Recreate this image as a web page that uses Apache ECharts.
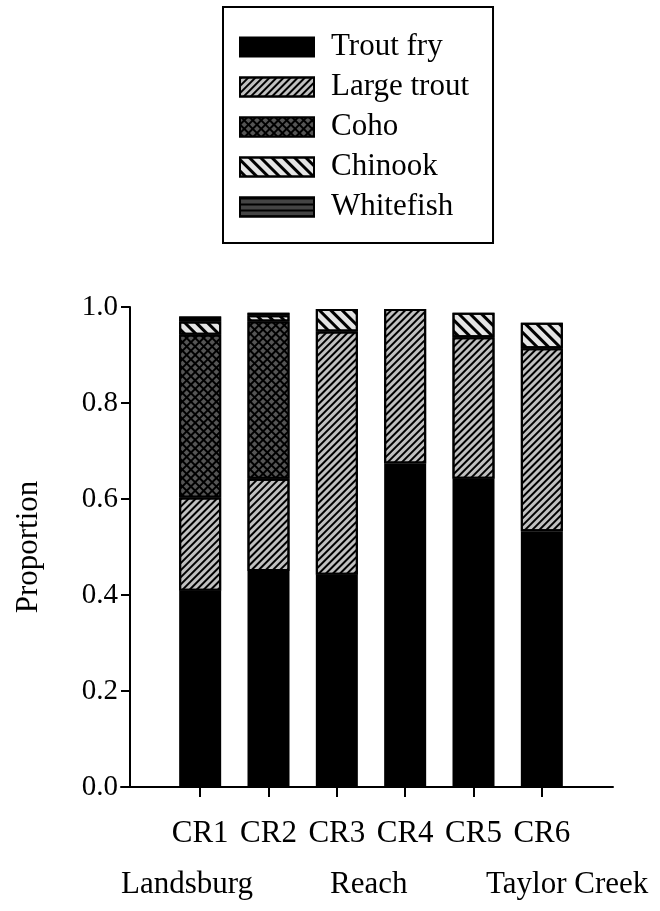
<!DOCTYPE html>
<html>
<head>
<meta charset="utf-8">
<script src="https://cdn.jsdelivr.net/npm/echarts@6/dist/echarts.min.js"></script>
<style>
html,body{margin:0;padding:0;background:#fff;}
#chart{width:660px;height:911px;}
</style>
</head>
<body>
<div id="chart"></div>
<script>
// ---- data ----
const categories = ['CR1', 'CR2', 'CR3', 'CR4', 'CR5', 'CR6'];
const troutFry   = [0.409, 0.450, 0.442, 0.674, 0.642, 0.533];
const largeTrout = [0.194, 0.192, 0.507, 0.322, 0.295, 0.381];
const coho       = [0.339, 0.328, 0, 0, 0, 0];
const chinook    = [0.028, 0.013, 0.047, 0, 0.051, 0.053];
const whitefish  = [0.010, 0.005, 0, 0, 0, 0];
const yTicks = ['0.0', '0.2', '0.4', '0.6', '0.8', '1.0'];
const reachLabels = ['Landsburg', 'Reach', 'Taylor Creek'];

const FONT = "'Liberation Serif', 'Times New Roman', serif";
const chart = echarts.init(document.getElementById('chart'), null, {renderer: 'canvas'});

function clean(arr) { return arr.map(v => (v === 0 ? null : v)); }

const barCommon = {
  type: 'bar', stack: 'total', barWidth: 42, xAxisIndex: 0, yAxisIndex: 0
};
const border = {borderColor: '#000', borderWidth: 2};

const option = {
  backgroundColor: '#fff',
  animation: false,
  legend: {
    orient: 'vertical',
    left: 223, top: 7,
    padding: [24, 24, 20, 16],
    borderColor: '#000', borderWidth: 2,
    itemWidth: 74, itemHeight: 19, itemGap: 8,
    icon: 'rect',
    textStyle: {fontFamily: FONT, fontSize: 31, color: '#000', lineHeight: 32, padding: [0, 0, 0, 12]},
    data: ['Trout fry', 'Large trout', 'Coho', 'Chinook', 'Whitefish']
  },
  grid: [
    {left: 166, right: 84, top: 307, bottom: 124},
    {left: 121, right: 47, top: 307, bottom: 124}
  ],
  xAxis: [
    {
      type: 'category', gridIndex: 0, data: categories,
      axisLine: {show: false},
      axisTick: {show: true, interval: 0, alignWithLabel: true, length: 10, lineStyle: {color: '#000', width: 2}},
      axisLabel: {interval: 0, hideOverlap: false, fontFamily: FONT, fontSize: 31, color: '#000', margin: 31}
    },
    {
      type: 'value', gridIndex: 1, min: 0, max: 1,
      axisLine: {show: true, onZero: false, lineStyle: {color: '#000', width: 2}},
      axisTick: {show: false}, axisLabel: {show: false}, splitLine: {show: false}
    }
  ],
  yAxis: [
    {
      type: 'value', gridIndex: 0, min: 0, max: 1, interval: 0.2, offset: 36,
      name: 'Proportion', nameLocation: 'middle', nameGap: 86,
      nameTextStyle: {fontFamily: FONT, fontSize: 31, color: '#000'},
      axisLine: {show: true, lineStyle: {color: '#000', width: 2}},
      axisTick: {show: true, length: 9, lineStyle: {color: '#000', width: 2}},
      axisLabel: {fontFamily: FONT, fontSize: 29, color: '#000', margin: 12,
        formatter: v => yTicks[Math.round(v / 0.2)]},
      splitLine: {show: false}
    },
    {type: 'value', gridIndex: 1, min: 0, max: 1, show: false}
  ],
  series: [
    Object.assign({}, barCommon, {
      name: 'Trout fry', data: clean(troutFry),
      itemStyle: Object.assign({color: '#000'}, border)
    }),
    Object.assign({}, barCommon, {
      name: 'Large trout', data: clean(largeTrout),
      itemStyle: Object.assign({color: '#c0c0c0',
        decal: {symbol: 'rect', symbolSize: 1, color: '#000', dashArrayX: [1, 0], dashArrayY: [2, 3], rotation: -Math.PI / 4}
      }, border)
    }),
    Object.assign({}, barCommon, {
      name: 'Coho', data: clean(coho),
      itemStyle: Object.assign({color: '#000',
        decal: {symbol: 'rect', symbolSize: 1, color: '#555', dashArrayX: [4, 2], dashArrayY: [4, 2], rotation: Math.PI / 4}
      }, border)
    }),
    Object.assign({}, barCommon, {
      name: 'Chinook', data: clean(chinook),
      itemStyle: Object.assign({color: '#e4e4e4',
        decal: {symbol: 'rect', symbolSize: 1, color: '#000', dashArrayX: [1, 0], dashArrayY: [3, 5], rotation: Math.PI / 4}
      }, border)
    }),
    Object.assign({}, barCommon, {
      name: 'Whitefish', data: clean(whitefish),
      itemStyle: Object.assign({color: '#444',
        decal: {symbol: 'rect', symbolSize: 1, color: '#000', dashArrayX: [1, 0], dashArrayY: [2, 4], rotation: 0}
      }, border)
    })
  ],
  graphic: [
    {type: 'text', left: 121, top: 869, style: {text: reachLabels[0], font: '31px ' + FONT, fill: '#000'}},
    {type: 'text', left: 330, top: 869, style: {text: reachLabels[1], font: '31px ' + FONT, fill: '#000'}},
    {type: 'text', left: 486, top: 869, style: {text: reachLabels[2], font: '31px ' + FONT, fill: '#000'}}
  ]
};
chart.setOption(option);
</script>
</body>
</html>
